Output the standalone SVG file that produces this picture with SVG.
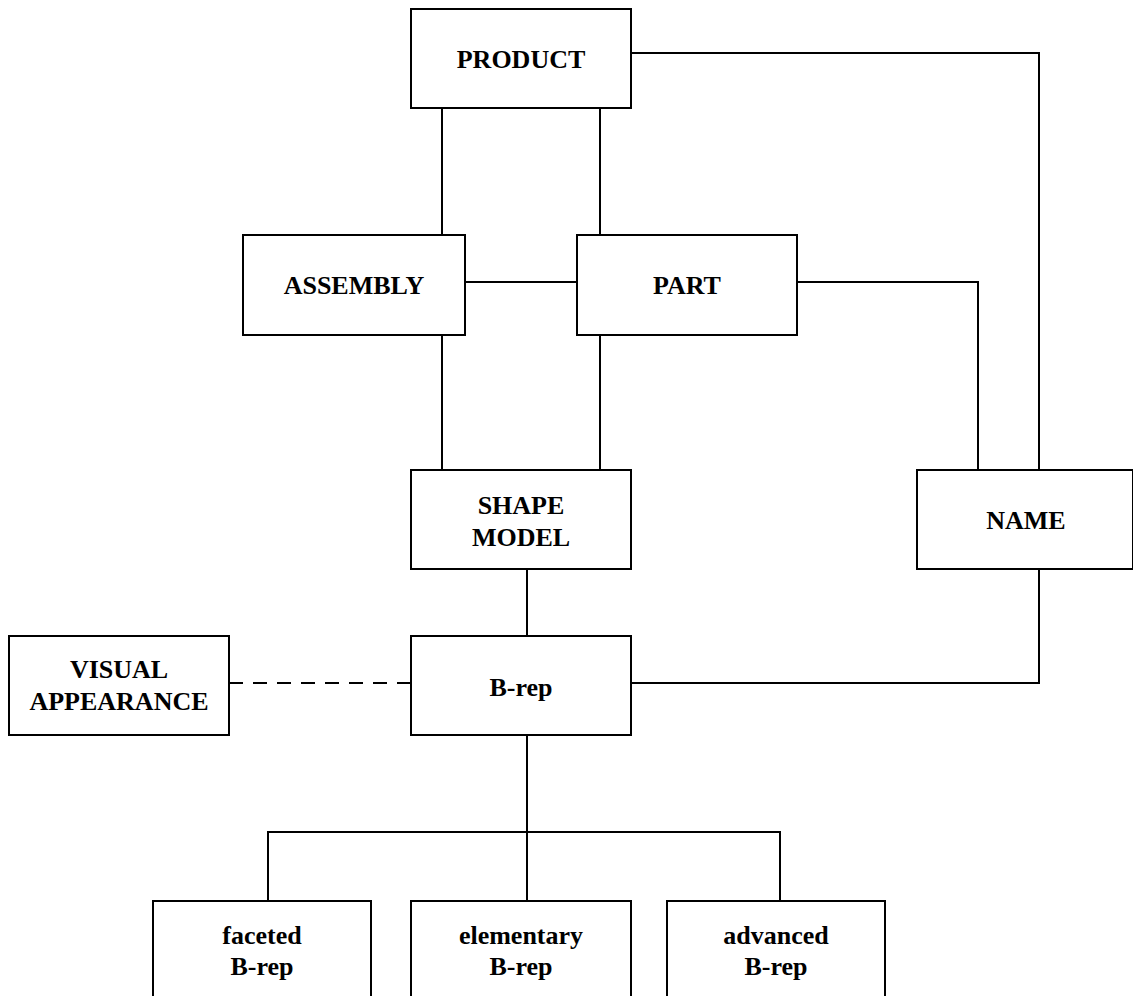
<svg xmlns="http://www.w3.org/2000/svg" width="1133" height="996" viewBox="0 0 1133 996">
  <style>
    .box { fill: #fff; stroke: #000; stroke-width: 2; }
    .lbl { font-family: "Liberation Serif", "Times New Roman", serif; font-weight: bold; font-size: 26px; fill: #000; text-anchor: middle; }
    .wire { fill: none; stroke: #000; stroke-width: 2; }
    .dash { stroke-dasharray: 14 10; }
  </style>
  <rect width="1133" height="996" fill="#fff"/>

  <g id="connectors">
    <path class="wire" d="M442 108 V235"/>
    <path class="wire" d="M600 108 V235"/>
    <path class="wire" d="M631 53 H1039 V470"/>
    <path class="wire" d="M465 282 H577"/>
    <path class="wire" d="M797 282 H978 V470"/>
    <path class="wire" d="M442 335 V470"/>
    <path class="wire" d="M600 335 V470"/>
    <path class="wire" d="M527 569 V636"/>
    <path class="wire" d="M1039 569 V683 H631"/>
    <path class="wire dash" d="M229 683 H411"/>
    <path class="wire" d="M527 735 V901"/>
    <path class="wire" d="M268 901 V832 H780 V901"/>
  </g>

  <g id="product">
    <rect class="box" x="411" y="9" width="220" height="99"/>
    <text class="lbl" x="521" y="68">PRODUCT</text>
  </g>
  <g id="assembly">
    <rect class="box" x="243" y="235" width="222" height="100"/>
    <text class="lbl" x="354" y="294">ASSEMBLY</text>
  </g>
  <g id="part">
    <rect class="box" x="577" y="235" width="220" height="100"/>
    <text class="lbl" x="687" y="294">PART</text>
  </g>
  <g id="shape-model">
    <rect class="box" x="411" y="470" width="220" height="99"/>
    <text class="lbl" x="521" y="514">SHAPE</text>
    <text class="lbl" x="521" y="546">MODEL</text>
  </g>
  <g id="name">
    <rect class="box" x="917" y="470" width="216" height="99"/>
    <text class="lbl" x="1026" y="529">NAME</text>
  </g>
  <g id="visual-appearance">
    <rect class="box" x="9" y="636" width="220" height="99"/>
    <text class="lbl" x="119" y="678">VISUAL</text>
    <text class="lbl" x="119" y="710">APPEARANCE</text>
  </g>
  <g id="b-rep">
    <rect class="box" x="411" y="636" width="220" height="99"/>
    <text class="lbl" x="521" y="696">B-rep</text>
  </g>
  <g id="faceted-b-rep">
    <rect class="box" x="153" y="901" width="218" height="110"/>
    <text class="lbl" x="262" y="944">faceted</text>
    <text class="lbl" x="262" y="975">B-rep</text>
  </g>
  <g id="elementary-b-rep">
    <rect class="box" x="411" y="901" width="220" height="110"/>
    <text class="lbl" x="521" y="944">elementary</text>
    <text class="lbl" x="521" y="975">B-rep</text>
  </g>
  <g id="advanced-b-rep">
    <rect class="box" x="667" y="901" width="218" height="110"/>
    <text class="lbl" x="776" y="944">advanced</text>
    <text class="lbl" x="776" y="975">B-rep</text>
  </g>
</svg>
